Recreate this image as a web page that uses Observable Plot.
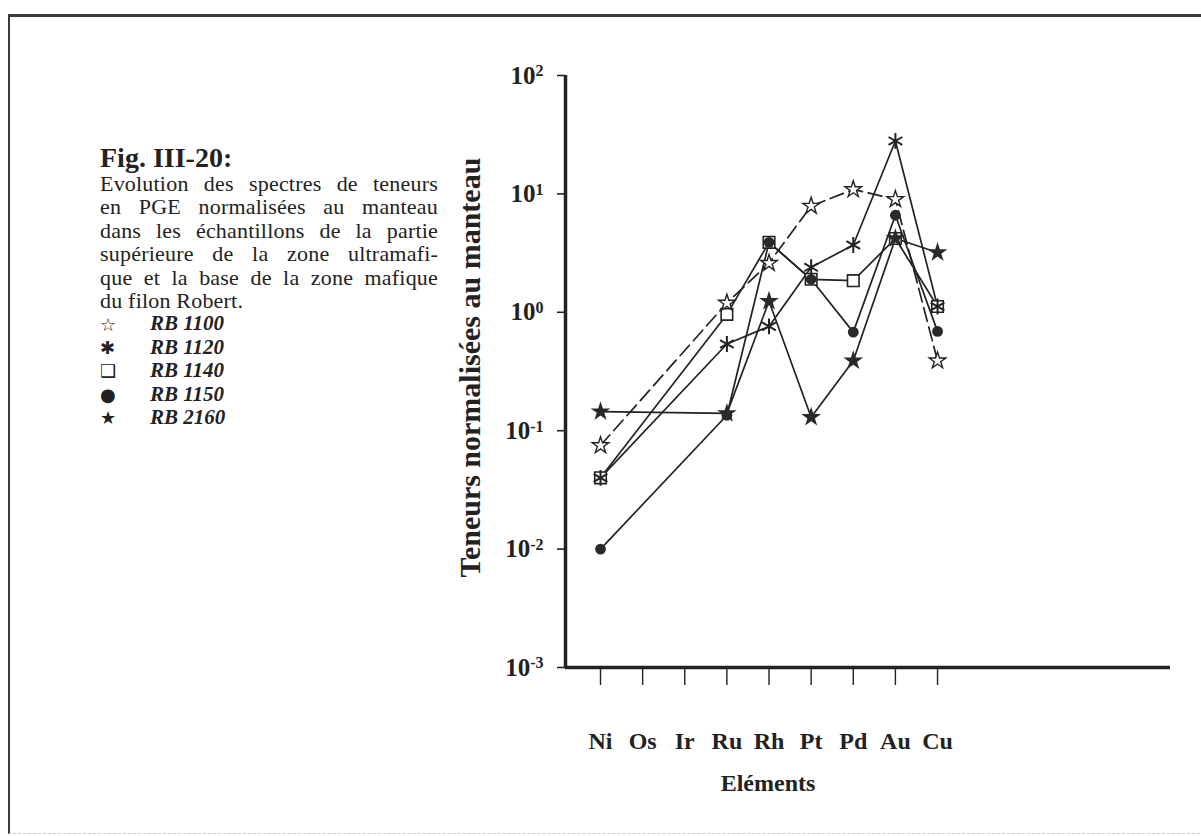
<!DOCTYPE html>
<html><head><meta charset="utf-8">
<script src="https://cdn.jsdelivr.net/npm/d3@7"></script>
<script src="https://cdn.jsdelivr.net/npm/@observablehq/plot@0.6"></script>
<style>
html,body{margin:0;padding:0;background:#fff;}
body{width:1201px;height:836px;position:relative;overflow:hidden;font-family:"Liberation Serif",serif;color:#222;}
#frame{position:absolute;left:8px;top:14px;width:1210px;height:816px;border-top:3px solid #3a3a3a;border-left:2px solid #3a3a3a;border-bottom:1px dashed #c8c8c8;}
#caption{position:absolute;left:100px;top:144px;width:338px;font-size:22px;line-height:23.4px;letter-spacing:0.2px;}
#caption .title{font-weight:bold;font-size:28px;line-height:28px;margin-bottom:0px;text-align:left;letter-spacing:0;}
#caption .ln{text-align:justify;text-align-last:justify;white-space:nowrap;}
#caption .ln.last{text-align-last:left;}
.leg{display:flex;align-items:center;height:23.4px;}
.sym{width:50px;font-family:"DejaVu Sans",sans-serif;font-size:18px;line-height:23px;}
.lab{font-weight:bold;font-style:italic;font-size:21px;letter-spacing:0;}
#chart{position:absolute;left:380px;top:40px;}
</style></head><body>
<div id="frame"></div>
<div id="caption"></div>
<div id="chart"></div>
<script>
// ---- data ----
const elements = ["Ni", "Os", "Ir", "Ru", "Rh", "Pt", "Pd", "Au", "Cu"];
const sampleNames = ["RB 1100", "RB 1120", "RB 1140", "RB 1150", "RB 2160"];
const legendSymbols = ["\u2606", "\u2731", "\u2751", "\u25CF", "\u2605"];
const rb1100 = [0.075, null, null, 1.2, 2.6, 7.9, 10.9, 9.0, 0.39];
const rb1120 = [0.04, null, null, 0.54, 0.76, 2.4, 3.7, 28, 1.12];
const rb1140 = [0.04, null, null, 0.96, 3.9, 1.9, 1.85, 4.2, 1.12];
const rb1150 = [0.01, null, null, 0.135, 3.9, 1.9, 0.68, 6.6, 0.69];
const rb2160 = [0.145, null, null, 0.14, 1.24, 0.13, 0.39, 4.2, 3.2];
const yTicks = [1e-3, 1e-2, 1e-1, 1, 10, 100];
const titleText = "Fig. III-20:";
const captionLines = [
  "Evolution des spectres de teneurs",
  "en PGE normalisées au manteau",
  "dans les échantillons de la partie",
  "supérieure de la zone ultramafi-",
  "que et la base de la zone mafique",
  "du filon Robert."
];
const yLabel = "Teneurs normalisées au manteau";
const xLabel = "Eléments";

// ---- caption + legend (HTML) ----
const cap = document.getElementById("caption");
const t = document.createElement("div"); t.className = "title"; t.textContent = titleText; cap.appendChild(t);
captionLines.forEach((l, i) => {
  const d = document.createElement("div");
  d.className = "ln" + (i === captionLines.length - 1 ? " last" : "");
  d.textContent = l; cap.appendChild(d);
});
sampleNames.forEach((n, i) => {
  const row = document.createElement("div"); row.className = "leg";
  const s = document.createElement("span"); s.className = "sym"; s.textContent = legendSymbols[i];
  const l = document.createElement("span"); l.className = "lab"; l.textContent = n;
  row.appendChild(s); row.appendChild(l); cap.appendChild(row);
});

// ---- chart ----
const series = [rb1100, rb1120, rb1140, rb1150, rb2160];
const rows = [];
series.forEach((vals, s) => vals.forEach((v, i) => {
  if (v != null) rows.push({sample: sampleNames[s], idx: i, el: elements[i], value: v});
}));
const of = name => rows.filter(d => d.sample === name);
const idx = d3.range(elements.length);
const xDom = [-0.831, 13.53];
const ink = "#222";
const lineOpts = {x: "idx", y: "value", stroke: ink, strokeWidth: 1.7};

const chart = Plot.plot({
  width: 820, height: 790,
  marginLeft: 185, marginRight: 30, marginTop: 35, marginBottom: 163,
  style: {fontFamily: "Liberation Serif", fontWeight: "bold", color: ink, background: "transparent", overflow: "visible"},
  x: {type: "linear", domain: xDom, axis: null},
  y: {type: "log", domain: [1e-3, 1e2], axis: null},
  marks: [
    Plot.ruleX([xDom[0]], {stroke: ink, strokeWidth: 3.5}),
    Plot.ruleY([1e-3], {stroke: ink, strokeWidth: 3.5}),
    Plot.axisY({ticks: yTicks, tickSize: 8, tickPadding: 14, fontSize: 25, strokeWidth: 1.6,
      tickFormat: d => "10^" + Math.round(Math.log10(d)), label: null}),
    Plot.axisX({ticks: idx, tickSize: 18, tickPadding: 4, tickFormat: () => "", strokeWidth: 1.4, label: null}),
    Plot.axisX({ticks: idx, tickSize: 0, tickPadding: 64, fontSize: 24,
      tickFormat: i => elements[i], label: null}),
    Plot.text([yLabel], {frameAnchor: "left", textAnchor: "middle", lineAnchor: "middle", rotate: -90,
      dx: -95, dy: -4, fontSize: 30, fontWeight: "bold", fill: ink}),
    Plot.text([xLabel], {frameAnchor: "bottom", textAnchor: "middle", lineAnchor: "middle",
      dx: -100, dy: 116, fontSize: 24, fontWeight: "bold", fill: ink}),
    Plot.line(of("RB 1100"), {...lineOpts, strokeDasharray: "14,6"}),
    Plot.line(of("RB 1120"), lineOpts),
    Plot.line(of("RB 1140"), lineOpts),
    Plot.line(of("RB 1150"), lineOpts),
    Plot.line(of("RB 2160"), lineOpts),
    Plot.dot(of("RB 1140"), {x: "idx", y: "value", symbol: "square", r: 6.5, fill: "white", stroke: ink, strokeWidth: 1.6}),
    Plot.dot(of("RB 1100"), {x: "idx", y: "value", symbol: "star", r: 5.2, fill: "white", stroke: ink, strokeWidth: 1.4}),
    Plot.dot(of("RB 1150"), {x: "idx", y: "value", symbol: "circle", r: 5.4, fill: "#2a2a2a", stroke: "none"}),
    Plot.dot(of("RB 2160"), {x: "idx", y: "value", symbol: "star", r: 6.2, fill: "#2a2a2a", stroke: "none"}),
    Plot.dot(of("RB 1120"), {x: "idx", y: "value", symbol: "asterisk", r: 7.5, stroke: ink, strokeWidth: 2})
  ]
});

// superscript exponents on the y tick labels
chart.querySelectorAll('g[aria-label="y-axis tick label"] text').forEach(el => {
  const s = el.textContent;
  if (s.startsWith("10^")) {
    const e = s.slice(3);
    el.textContent = "";
    const a = document.createElementNS("http://www.w3.org/2000/svg", "tspan"); a.textContent = "10";
    const b = document.createElementNS("http://www.w3.org/2000/svg", "tspan"); b.textContent = e;
    b.setAttribute("dy", "-0.45em"); b.setAttribute("font-size", "16");
    el.appendChild(a); el.appendChild(b);
  }
});
document.getElementById("chart").appendChild(chart);
</script>
</body></html>
